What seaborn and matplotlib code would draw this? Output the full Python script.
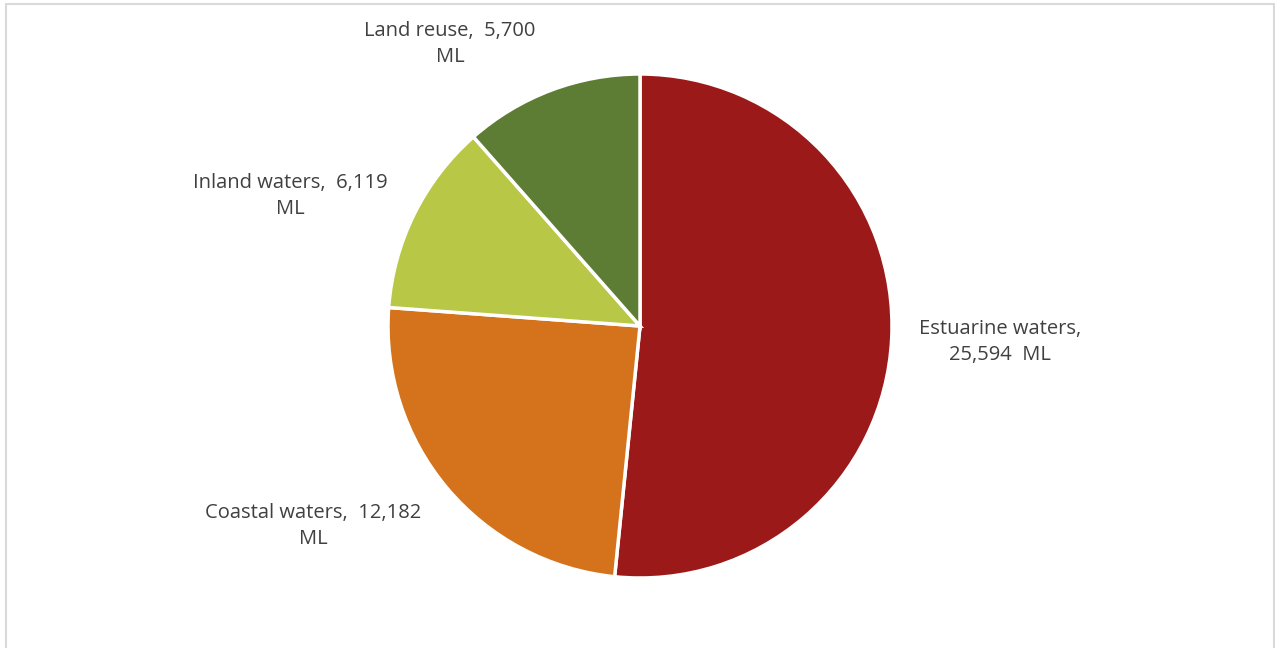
import matplotlib
matplotlib.use("Agg")
import matplotlib.pyplot as plt
import seaborn as sns
from matplotlib.patches import Rectangle

categories = ["Estuarine waters", "Coastal waters", "Inland waters", "Land reuse"]
values = [25594, 12182, 6119, 5700]
colors = ["#9C1919", "#D4731C", "#B8C846", "#5D7C34"]
label_texts = ["Estuarine waters,\n25,594  ML", "Coastal waters,  12,182\nML",
               "Inland waters,  6,119\nML", "Land reuse,  5,700\nML"]
label_pos = [(1000, 342), (313, 526), (290, 196), (450, 44)]

sns.set_theme(style="white")
plt.rcParams['font.family'] = ['Open Sans', 'DejaVu Sans']

W, H = 1275, 648
fig = plt.figure(figsize=(W / 100, H / 100), dpi=100)
ax = fig.add_axes([0, 0, 1, 1])
ax.set_xlim(0, W)
ax.set_ylim(0, H)
ax.set_aspect("equal")
ax.axis("off")

ax.pie(values, colors=colors, startangle=90, counterclock=False,
       center=(640, H - 326), radius=252, frame=True,
       wedgeprops=dict(edgecolor="white", linewidth=2.5))
ax.set_xlim(0, W)
ax.set_ylim(0, H)
ax.axis("off")

for txt, (x, y) in zip(label_texts, label_pos):
    ax.text(x, H - y, txt, ha="center", va="center", fontsize=14.5,
            color="#404040", linespacing=1.4)

fig.patches.append(Rectangle((6 / W, -0.01), (1274 - 6) / W, (H - 4) / H + 0.01,
                             transform=fig.transFigure, fill=False,
                             edgecolor="#D9D9D9", linewidth=1.5))

fig.savefig("out.png", dpi=100)
